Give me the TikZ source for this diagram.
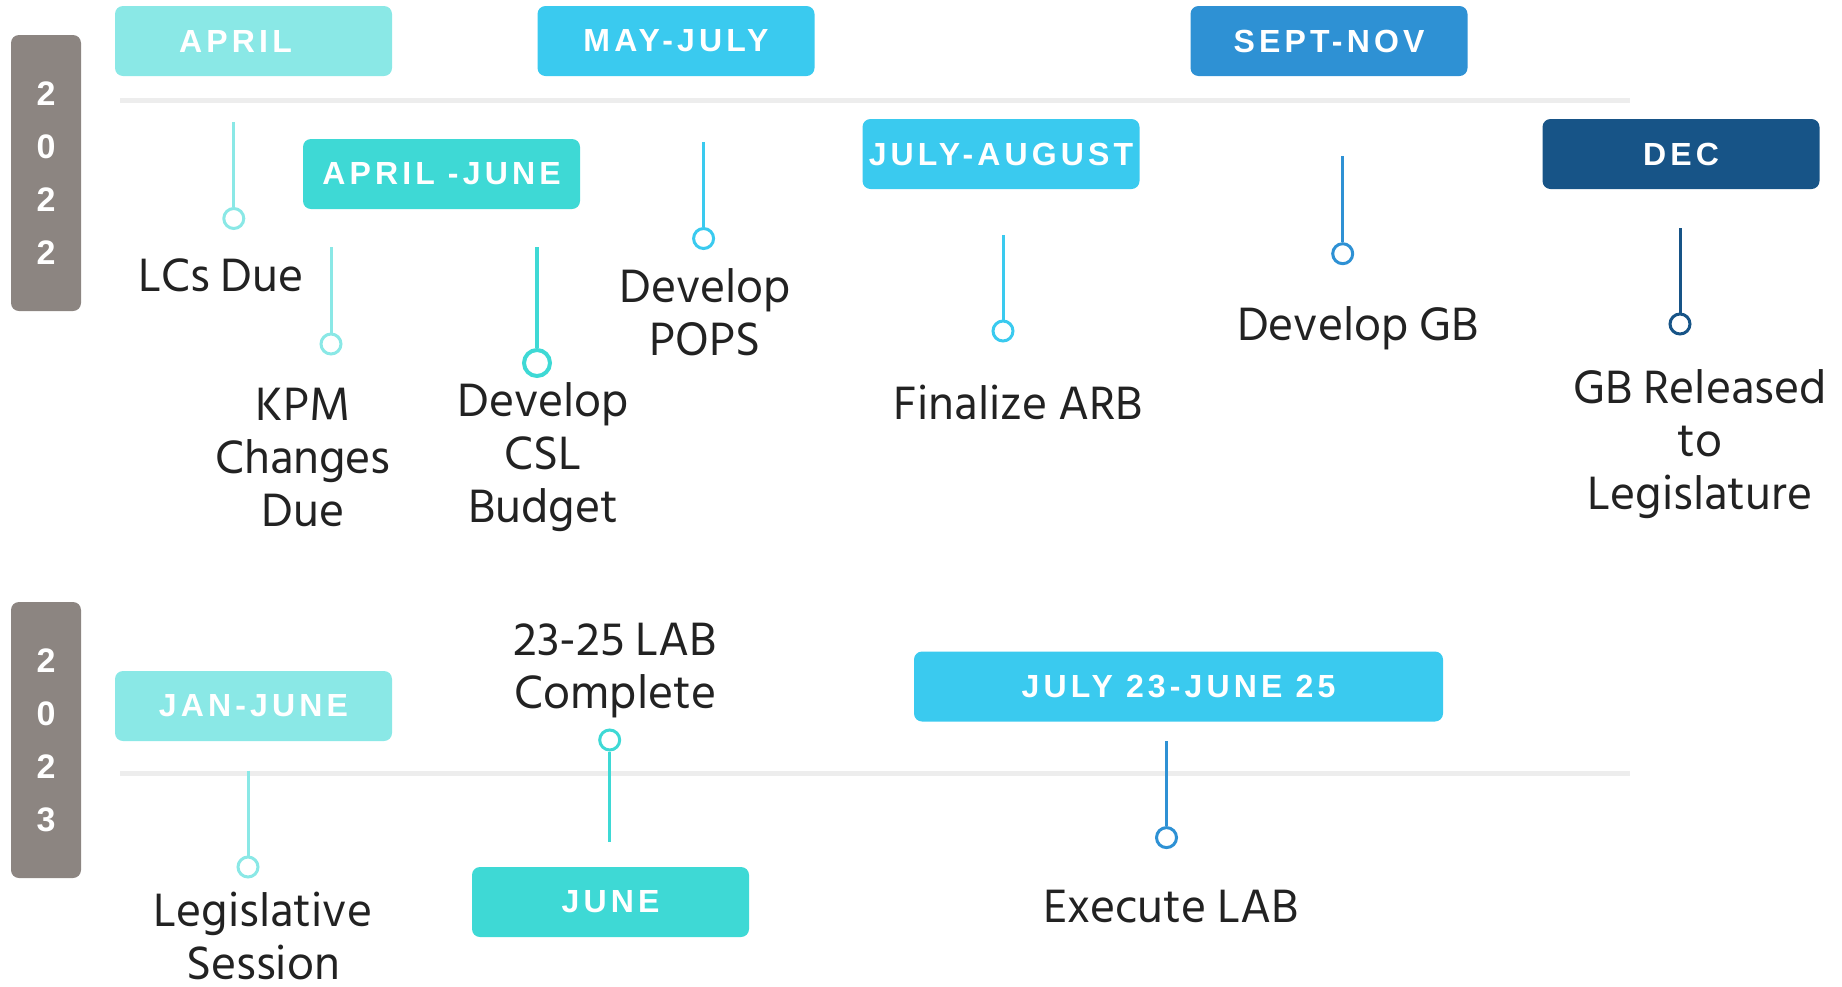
\documentclass[tikz,border=0pt]{standalone}
\usepackage{fontspec}
\setmainfont{Hind Siliguri}
\newfontfamily\tagfont[LetterSpace=13]{Liberation Sans}

\definecolor{lightteal}{HTML}{8AE8E6}
\definecolor{teal}{HTML}{3ED9D5}
\definecolor{sky}{HTML}{3ACAEF}
\definecolor{midblue}{HTML}{2E91D4}
\definecolor{navy}{HTML}{175487}
\definecolor{yeargray}{HTML}{8C8581}
\definecolor{rulegray}{HTML}{EDEDED}
\definecolor{textdark}{HTML}{222222}

\begin{document}
\begin{tikzpicture}[x=1pt, y=-1pt,
    tag/.style={rounded corners=8pt, minimum width=277pt, minimum height=70pt, inner sep=0pt, text=white, font=\tagfont\bfseries\fontsize{32}{32}\selectfont},
    yearbox/.style={fill=yeargray, rounded corners=8pt, minimum width=70pt, minimum height=276pt, inner sep=0pt, text=white, align=center, font=\tagfont\bfseries\fontsize{34}{53}\selectfont},
    label/.style={align=center, text=textdark, font=\fontsize{48}{53}\selectfont},
    stem/.style={line width=3pt},
    dot/.style={circle, draw=#1, fill=white, line width=3pt, minimum size=20pt, inner sep=0pt}]

\useasboundingbox (0,0) rectangle (1842,986);

% years
\node[yearbox] (y2022) at (46,173) {2\\0\\2\\2};
\node[yearbox] (y2023) at (46,740) {2\\0\\2\\3};

% timelines
\coordinate (line1 start) at (120,100);
\coordinate (line1 end) at (1630,100);
\coordinate (line2 start) at (120,773);
\coordinate (line2 end) at (1630,773);
\draw[rulegray, line width=5pt] (line1 start) -- (line1 end);
\draw[rulegray, line width=5pt] (line2 start) -- (line2 end);

% month tags
\node[tag, fill=lightteal] (april) at (253.5,41) {\hspace*{-36pt}APRIL};
\node[tag, fill=sky] (mayjuly) at (676,41) {MAY-JULY};
\node[tag, fill=midblue] (septnov) at (1329,41) {SEPT-NOV};
\node[tag, fill=teal] (apriljune) at (441.5,174) {APRIL -JUNE};
\node[tag, fill=sky] (julyaug) at (1001,154) {JULY-AUGUST};
\node[tag, fill=navy] (dec) at (1681,154) {DEC};
\node[tag, fill=lightteal] (janjune) at (253.5,706) {JAN-JUNE};
\node[tag, fill=teal] (june) at (610.5,902) {JUNE};
\node[tag, fill=sky, minimum width=529pt] (july23) at (1178.5,686.5) {JULY 23-JUNE 25};

% stems 2022
\coordinate (lcs top) at (233.8,122);
\node[dot=lightteal] (lcs dot) at (233.8,218.5) {};
\draw[stem, lightteal] (lcs top) -- (lcs dot);
\coordinate (kpm top) at (331,247);
\node[dot=lightteal] (kpm dot) at (331,344) {};
\draw[stem, lightteal] (kpm top) -- (kpm dot);
\coordinate (csl top) at (537,247);
\node[dot=teal, minimum size=26pt, line width=4pt] (csl dot) at (537,363) {};
\draw[stem, teal, line width=4pt] (csl top) -- (csl dot);
\coordinate (pops top) at (703.6,142);
\node[dot=sky] (pops dot) at (703.6,238.5) {};
\draw[stem, sky] (pops top) -- (pops dot);
\coordinate (arb top) at (1003,235);
\node[dot=sky] (arb dot) at (1003,331) {};
\draw[stem, sky] (arb top) -- (arb dot);
\coordinate (gb top) at (1342.7,156);
\node[dot=midblue] (gb dot) at (1342.7,253.7) {};
\draw[stem, midblue] (gb top) -- (gb dot);
\coordinate (rel top) at (1680,228);
\node[dot=navy] (rel dot) at (1680,324) {};
\draw[stem, navy] (rel top) -- (rel dot);

% stems 2023
\coordinate (leg top) at (248,770.6);
\node[dot=lightteal] (leg dot) at (248,867) {};
\draw[stem, lightteal] (leg top) -- (leg dot);
\coordinate (lab bottom) at (609.7,842);
\node[dot=teal] (lab dot) at (609.7,740) {};
\draw[stem, teal] (lab dot) -- (lab bottom);
\coordinate (exe top) at (1166.5,741);
\node[dot=midblue] (exe dot) at (1166.5,837.6) {};
\draw[stem, midblue] (exe top) -- (exe dot);

% labels
\node[label] (lcs) at (221,275) {LCs Due};
\node[label] (kpm) at (303,457) {KPM\\Changes\\Due};
\node[label] (csl) at (543,457) {Develop\\CSL\\Budget};
\node[label] (pops) at (705,312) {Develop\\POPS};
\node[label] (arb) at (1018.5,402) {Finalize ARB};
\node[label] (gb) at (1358,328) {Develop GB};
\node[label] (rel) at (1700,444) {GB Released\\to\\Legislature};
\node[label] (leg) at (263,936) {Legislative\\Session};
\node[label] (lab) at (615.5,671) {23-25 LAB\\Complete};
\node[label] (exe) at (1171,907) {Execute LAB};

\end{tikzpicture}
\end{document}
